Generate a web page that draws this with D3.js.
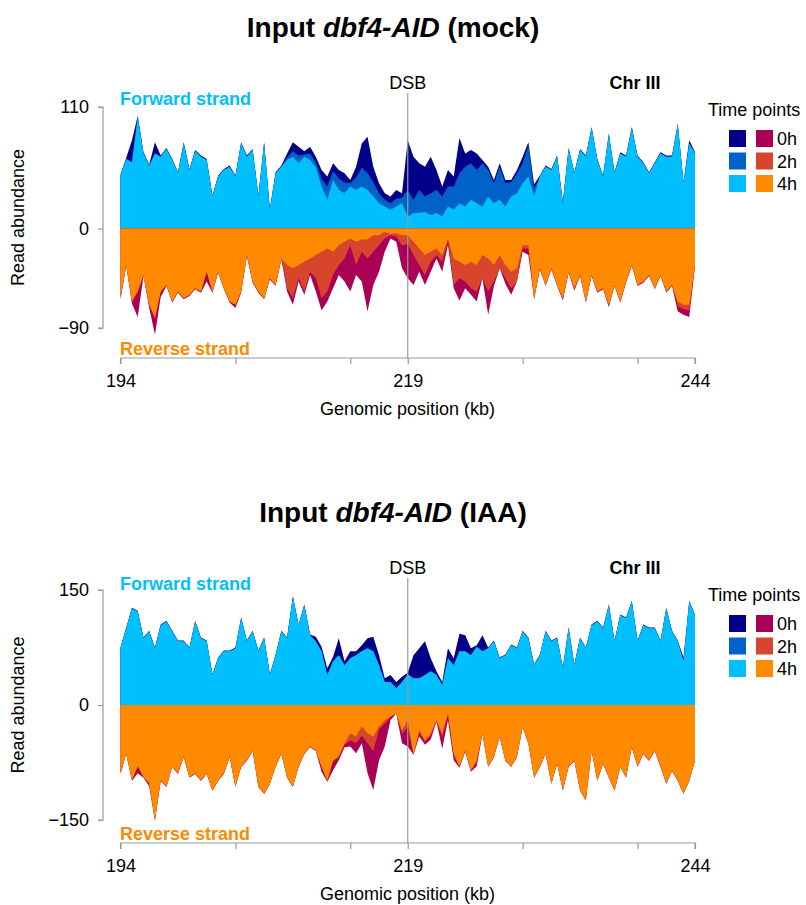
<!DOCTYPE html>
<html><head><meta charset="utf-8">
<script src="https://cdn.jsdelivr.net/npm/d3@7"></script>
<style>body{margin:0;background:#fff} text{font-family:"Liberation Sans",Arial,Helvetica,sans-serif}</style>
</head><body><svg id="c" width="806" height="905"></svg>
<script>
// genomic bin positions (kb), 0.5 kb bins from 194 to 244
const positionsKb = d3.range(101).map(i => 194 + 0.5 * i);
const xTicks = [194, 204, 214, 219, 229, 239, 244];
const xTickLabels = [194, 219, 244];
const timePoints = ["0h", "2h", "4h"];
const fwdColors = ["#000088", "#0062C8", "#00BFFF"];
const revColors = ["#AA0055", "#D6452C", "#FF8A00"];

// ---- Panel 1: mock ----
const mockFwd0h = [49,64,80,102,69,58,78,66,73,63, 51,78,54,71,66,63,30,48,54,57, 48,78,66,72,30,78,18,51,57,
  68, 78,74,70,74,65,53,47,59,53,50, 44,56,77,83,56,41,32,29,35,32, 80,
  65,59,56,65,53,38,53,47,82,68, 71,68,62,56,44,59,44,44,53,65, 78,40,
  48,57,54,66,24,73,51,72, 66,92,63,48,86,51,69,66,92,66, 60,51,60,69,66,66,95,42,80,69];
const mockFwd2h = [48,63,60,101,68,57,68,65,72,62, 50,77,53,70,65,62,29,47,53,56, 47,77,65,71,29,77,17,50,56,
  64, 70,66,67,68,60,45,38,52,45,42, 41,46,55,50,42,32,26,23,27,28, 35,
  26,35,29,32,35,29,38,38,50,56, 59,53,59,53,41,56,41,42,50,59, 75,36,
  47,56,53,65,23,72,50,71, 65,91,62,47,85,50,68,65,91,65, 59,50,59,68,65,65,94,41,77,68];
const mockFwd4h = [48,63,60,101,68,57,68,65,72,62, 50,77,53,70,65,62,29,47,53,56, 47,77,65,71,29,77,17,50,56,62, 65,59,65,62,56,38,26,44,35,32, 38,35,38,35,29,23,20,17,20,23, 11,
  14,14,15,12,14,11,20,17,23,20, 26,23,20,29,23,26,20,29,32,41, 47,29,47,56,53,65,23,72,50,71, 65,91,62,47,85,50,68,65,91,65, 59,50,59,68,65,65,94,41,77,68];
const mockRev0h = [64,34,68,80,43,72,96,62,52,67, 58,64,61,55,58,48,58,40,55,67, 72,58,25,49,58,64,46,52,28,
  57, 69,48,60,42,57,74,66,54,42,48, 57,42,48,75,51,39,21,9,12,36, 45,
  51,39,51,39,27,39,15,54,65,54, 60,66,45,78,52,36,50,60,48,21, 24,
  64,37,52,37,52,65,40,56,43, 67,43,58,55,71,52,67,49,34,52, 49,43,55,43,58,52,75,78,80,34];
const mockRev2h = [63,33,66,57,42,69,81,57,51,66, 57,63,60,54,57,39,57,39,54,66, 69,57,24,48,57,63,45,51,27,
  54, 63,45,57,39,45,63,57,42,33,27, 15,33,21,27,21,15,9,6,7,15, 14,
  24,33,42,30,24,30,12,51,45,48, 54,57,45,57,48,36,45,54,48,18, 18,
  63,36,51,36,51,63,39,54,42, 66,42,57,54,69,51,66,48,33,51, 48,42,54,42,57,51,70,73,74,33];
const mockRev4h = [63,33,66,57,42,69,81,57,51,66, 57,63,60,54,57,39,57,39,54,66, 69,57,24,48,57,63,45,51,27,33, 36,33,30,27,24,21,18,21,15,12, 9,12,10,10,6,6,3,5,4,6, 6,
  12,18,24,21,18,24,9,27,30,33, 30,33,24,27,33,24,33,39,36,15, 15,63,36,51,36,51,63,39,54,42, 66,42,57,54,69,51,66,48,33,51, 48,42,54,42,57,51,66,69,69,33];

// ---- Panel 2: IAA ----
const iaaFwd0h = [75,101,127,123,88,97,75,105,110,97, 84,84,75,110,88,84,40,62,71,71, 75,114,84,97,71,88,40,66,97,88, 142,105,131,92,
  89,76,48,63,87,57, 70,70,78,87,89,65,35,39,30,37, 42, 65,74,83,61,44,30,74,61,93,91, 74,78,91,
  75,84,62,66,79,75,97, 88,53,66,97,84,88,49,101,53,88, 75,105,110,101,131,84,118,114,136,84, 105,101,101,84,127,97,84,62,136,118];
const iaaFwd2h = [74,100,126,122,87,96,74,104,109,96, 83,83,74,109,87,83,39,61,70,70, 74,113,83,96,70,87,39,65,96,87, 141,104,130,91,83,70,39,57,65,52, 61,65,70,74,70,52,30,30,22,30, 40,
  35,35,39,44,39,26,61,52,70,70, 65,76,70,74,83,61,65,78,74,96, 87,52,65,96,83,87,48,100,52,87, 74,104,109,100,130,83,117,113,135,83, 104,100,100,83,126,96,83,57,135,117];
const iaaFwd4h = [74,100,126,122,87,96,74,104,109,96, 83,83,74,109,87,83,39,61,70,70, 74,113,83,96,70,87,39,65,96,87, 141,104,130,91,83,70,39,57,65,52, 61,65,70,74,70,52,30,30,22,30, 40,
  35,35,39,44,39,26,61,52,70,70, 65,76,70,74,83,61,65,78,74,96, 87,52,65,96,83,87,48,100,52,87, 74,104,109,100,130,83,117,113,135,83, 104,100,100,83,126,96,83,57,135,117];
const iaaRev0h = [90,64,99,89,95,106,151,99,107,81, 90,68,95,90,99,90,112,99,90,68, 107,81,73,60,107,116,103,81,64,95, 107,81,64,55,60,
  87,100,85,72,55, 54,63,50,89,111,72,54,20,11,50, 54, 65,41,52,45,22,57,20,72,82,61, 87,80,
  38,81,68,42,73,81,68,29, 51,95,81,64,103,77,112,81,73,112, 125,60,99,77,95,112,81,95,55,81, 64,73,60,81,103,86,99,116,99,73];
const iaaRev2h = [89,63,98,80,94,102,150,98,106,80, 89,67,94,89,98,89,111,98,89,67, 106,80,72,59,106,115,102,80,63,94, 106,80,63,54,59,
  82,99,74,68,52, 46,50,40,50,60,32,24,16,11,38, 28, 65,36,48,40,21,42,13,66,81,60, 86,75,
  37,80,67,41,72,80,67,28, 50,94,80,63,102,76,111,80,72,111, 124,59,98,76,94,111,80,94,54,80, 63,72,59,80,102,85,98,115,98,72];
const iaaRev4h = [89,63,98,80,94,102,150,98,106,80, 89,67,94,89,98,89,111,98,89,67, 106,80,72,59,106,115,102,80,63,94, 106,80,63,54,59,80,98,72,67,50, 37,41,28,37,41,28,20,15,11,33, 20,
  65,33,46,37,20,37,11,63,80,59, 85,72,37,80,67,41,72,80,67,28, 50,94,80,63,102,76,111,80,72,111, 124,59,98,76,94,111,80,94,54,80, 63,72,59,80,102,85,98,115,98,72];

const panels = [
  {cond: "(mock)", dy: 0, yDomain: [-90, 110], yRange: [328, 107], yTicks: [110, 0, -90],
   fwd: [mockFwd0h, mockFwd2h, mockFwd4h], rev: [mockRev0h, mockRev2h, mockRev4h]},
  {cond: "(IAA)", dy: 485, yDomain: [-150, 150], yRange: [820, 590], yTicks: [150, 0, -150],
   fwd: [iaaFwd0h, iaaFwd2h, iaaFwd4h], rev: [iaaRev0h, iaaRev2h, iaaRev4h]}
];

const svg = d3.select("#c");
const x = d3.scaleLinear().domain([194, 244]).range([120.5, 695]);
const axisColor = "#9a9a9a";
const fmt = v => v < 0 ? "\u2212" + Math.abs(v) : String(v);

panels.forEach(p => {
  const g = svg.append("g");
  const y = d3.scaleLinear().domain(p.yDomain).range(p.yRange);
  const dy = p.dy;

  // title
  const t = g.append("text").attr("x", 393).attr("y", 37 + dy).attr("text-anchor", "middle")
    .attr("font-size", 28).attr("font-weight", "bold").attr("fill", "#000");
  t.append("tspan").text("Input ");
  t.append("tspan").attr("font-style", "italic").text("dbf4-AID");
  t.append("tspan").text(" " + p.cond);

  // areas
  const area = vals => d3.area().x((d, i) => x(positionsKb[i])).y0(y(0)).y1(d => y(d))(vals);
  p.fwd.forEach((vals, k) => g.append("path").attr("d", area(vals)).attr("fill", fwdColors[k]));
  p.rev.forEach((vals, k) => g.append("path").attr("d", area(vals.map(v => -v))).attr("fill", revColors[k]));

  // DSB line
  const axisY = 358 + dy;
  g.append("line").attr("x1", x(219)).attr("x2", x(219)).attr("y1", 93 + dy).attr("y2", axisY)
    .attr("stroke", axisColor).attr("stroke-width", 1.2);
  g.append("text").attr("x", x(219)).attr("y", 89 + dy).attr("text-anchor", "middle")
    .attr("font-size", 18).text("DSB");
  g.append("text").attr("x", 635).attr("y", 89 + dy).attr("text-anchor", "middle")
    .attr("font-size", 18).attr("font-weight", "bold").text("Chr III");

  // strand labels
  g.append("text").attr("x", 120).attr("y", 105 + dy).attr("font-size", 18).attr("font-weight", "bold")
    .attr("fill", "#00BFFF").text("Forward strand");
  g.append("text").attr("x", 120).attr("y", 355 + dy).attr("font-size", 18).attr("font-weight", "bold")
    .attr("fill", "#FF8A00").text("Reverse strand");

  // y axis
  const ya = g.append("g").attr("transform", "translate(103,0)")
    .call(d3.axisLeft(y).tickValues(p.yTicks).tickFormat(fmt).tickSize(5).tickPadding(9));
  ya.select(".domain").attr("stroke", axisColor).attr("stroke-width", 1.2)
    .attr("d", `M-5,${y(p.yTicks[0])}H0V${y(p.yTicks[2])}H-5`);
  ya.selectAll(".tick line").attr("stroke", axisColor).attr("stroke-width", 1.2);
  ya.selectAll(".tick text").attr("font-size", 18).attr("fill", "#000")
    .attr("font-family", "'Liberation Sans',Arial,sans-serif");
  g.append("text").attr("transform", `translate(24,${(y(p.yTicks[0]) + y(p.yTicks[2])) / 2}) rotate(-90)`)
    .attr("text-anchor", "middle").attr("font-size", 18).text("Read abundance");

  // x axis
  const xa = g.append("g").attr("transform", `translate(0,${axisY})`)
    .call(d3.axisBottom(x).tickValues(xTicks).tickFormat(v => xTickLabels.includes(v) ? v : "").tickSize(6).tickPadding(10));
  xa.select(".domain").attr("stroke", axisColor).attr("stroke-width", 1.2)
    .attr("d", `M${x(194)},6V0H${x(244)}V6`);
  xa.selectAll(".tick line").attr("stroke", axisColor).attr("stroke-width", 1.2);
  xa.selectAll(".tick text").attr("font-size", 18).attr("fill", "#000")
    .attr("font-family", "'Liberation Sans',Arial,sans-serif");
  g.append("text").attr("x", 407.5).attr("y", 415 + dy).attr("text-anchor", "middle")
    .attr("font-size", 18).text("Genomic position (kb)");

  // legend
  g.append("text").attr("x", 708).attr("y", 116 + dy).attr("font-size", 18).text("Time points");
  timePoints.forEach((tp, k) => {
    const yy = 130 + dy + k * 22.5;
    g.append("rect").attr("x", 729).attr("y", yy).attr("width", 17).attr("height", 17).attr("fill", fwdColors[k]);
    g.append("rect").attr("x", 756).attr("y", yy).attr("width", 17).attr("height", 17).attr("fill", revColors[k]);
    g.append("text").attr("x", 777).attr("y", yy + 15).attr("font-size", 18).text(tp);
  });
});
</script></body></html>
